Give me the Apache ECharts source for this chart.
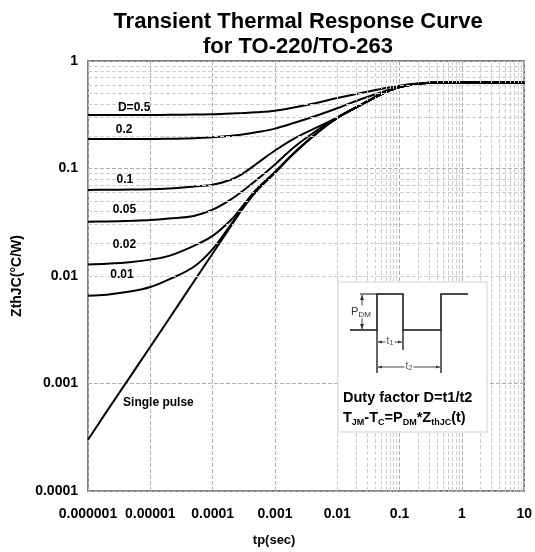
<!DOCTYPE html>
<html><head><meta charset="utf-8">
<script src="https://cdn.jsdelivr.net/npm/echarts@6/dist/echarts.min.js"></script>
<style>html,body{margin:0;padding:0;background:#fff}#c{width:535px;height:552px}</style>
</head><body><div id="c"></div>
<script>
// pulse width tp (s)
const tp = [1e-6, 2e-6, 5e-6, 1e-5, 2e-5, 5e-5, 1e-4, 2e-4, 3e-4, 5e-4, 1e-3, 2e-3, 5e-3, 1e-2, 2e-2, 5e-2, 0.1, 0.2, 0.5, 1, 2, 5, 10];
// ZthJC (°C/W) for each duty factor
const zD05   = [0.315, 0.315, 0.315, 0.315, 0.316, 0.318, 0.32, 0.325, 0.328, 0.333, 0.344, 0.369, 0.412, 0.453, 0.494, 0.548, 0.59, 0.617, 0.63, 0.63, 0.63, 0.63, 0.63];
const zD02   = [0.188, 0.188, 0.188, 0.188, 0.189, 0.191, 0.195, 0.202, 0.207, 0.217, 0.235, 0.265, 0.315, 0.363, 0.425, 0.509, 0.575, 0.616, 0.63, 0.63, 0.63, 0.63, 0.63];
const zD01   = [0.0632, 0.0634, 0.0637, 0.064, 0.0652, 0.068, 0.0705, 0.079, 0.089, 0.11, 0.147, 0.189, 0.245, 0.297, 0.368, 0.49, 0.572, 0.615, 0.63, 0.63, 0.63, 0.63, 0.63];
const zD005  = [0.032, 0.0322, 0.0326, 0.0331, 0.0342, 0.0362, 0.0414, 0.052, 0.0615, 0.0776, 0.109, 0.157, 0.232, 0.297, 0.37, 0.488, 0.571, 0.615, 0.63, 0.63, 0.63, 0.63, 0.63];
const zD002  = [0.0128, 0.013, 0.0135, 0.0142, 0.0154, 0.0191, 0.0236, 0.0335, 0.0445, 0.0635, 0.093, 0.139, 0.221, 0.296, 0.37, 0.488, 0.571, 0.615, 0.63, 0.63, 0.63, 0.63, 0.63];
const zD001  = [0.00656, 0.0067, 0.0072, 0.0079, 0.0093, 0.0122, 0.0178, 0.0306, 0.043, 0.0625, 0.092, 0.138, 0.22, 0.296, 0.37, 0.488, 0.571, 0.615, 0.63, 0.63, 0.63, 0.63, 0.63];
const zSingle= [0.0003, 0.00055, 0.00121, 0.0022, 0.004, 0.0089, 0.0162, 0.0295, 0.0419, 0.061, 0.091, 0.138, 0.22, 0.296, 0.37, 0.488, 0.571, 0.615, 0.63, 0.63, 0.63, 0.63, 0.63];

const curveNames = ['D=0.5', '0.2', '0.1', '0.05', '0.02', '0.01', 'Single pulse'];
const curveData = [zD05, zD02, zD01, zD005, zD002, zD001, zSingle];

const xTickLabels = ['0.000001', '0.00001', '0.0001', '0.001', '0.01', '0.1', '1', '10'];
const yTickLabels = ['0.0001', '0.001', '0.01', '0.1', '1'];

// where each curve label sits (data coordinates)
const labelAnchors = [[5.5e-6, 0.37], [3.8e-6, 0.228], [3.9e-6, 0.079], [3.85e-6, 0.0412], [3.85e-6, 0.0195], [3.5e-6, 0.0102], [1.35e-5, 0.00066]];

const FONT = 'Liberation Sans, Arial, sans-serif';

// minor grid positions (2..9 in each decade)
const minorX = [], minorY = [];
for (let e = -6; e < 1; e++) for (let k = 2; k <= 9; k++) minorX.push(+(k * Math.pow(10, e)).toPrecision(3));
for (let e = -4; e < 0; e++) for (let k = 2; k <= 9; k++) minorY.push(+(k * Math.pow(10, e)).toPrecision(3));

const chart = echarts.init(document.getElementById('c'), null, {renderer: 'canvas'});

const series = [];
series.push({
  type: 'line', z: 1, data: [[1e-6, 1e-4]], showSymbol: false, symbol: 'none',
  lineStyle: {opacity: 0}, silent: true,
  markLine: {
    silent: true, symbol: ['none', 'none'], label: {show: false}, animation: false,
    lineStyle: {color: '#cfcfcf', type: [4, 2], width: 1},
    data: minorX.map(v => ({xAxis: v})).concat(minorY.map(v => ({yAxis: v})))
  }
});
curveData.forEach((arr, i) => {
  series.push({
    name: curveNames[i], type: 'line', z: 3, smooth: 0.35, symbol: 'none', showSymbol: false,
    lineStyle: {color: '#000', width: 2},
    data: tp.map((t, j) => [t, arr[j]])
  });
});

const graphics = [
  {type: 'text', x: 298, y: 9, z: 10, style: {
    text: 'Transient Thermal Response Curve\nfor TO-220/TO-263', align: 'center', verticalAlign: 'top',
    font: 'bold 22px ' + FONT, lineHeight: 25, fill: '#000'}},
  // inset box
  {type: 'rect', z: 20, shape: {x: 338, y: 282, width: 149, height: 150},
    style: {fill: '#fff', stroke: '#e2e2e2', lineWidth: 1.5}},
  {type: 'polyline', z: 21, shape: {points: [[350, 330], [377, 330], [377, 294], [403, 294], [403, 330], [441, 330], [441, 294], [468, 294]]},
    style: {stroke: '#111', lineWidth: 1.5, fill: null}},
  {type: 'line', z: 21, shape: {x1: 360, y1: 294, x2: 377, y2: 294}, style: {stroke: '#111', lineWidth: 1}},
  {type: 'line', z: 21, shape: {x1: 362, y1: 295, x2: 362, y2: 329}, style: {stroke: '#333', lineWidth: 1}},
  {type: 'polygon', z: 21, shape: {points: [[362, 295], [360, 300], [364, 300]]}, style: {fill: '#333'}},
  {type: 'polygon', z: 21, shape: {points: [[362, 329], [360, 324], [364, 324]]}, style: {fill: '#333'}},
  {type: 'text', z: 22, x: 361, y: 312, style: {
    text: '{p|P}{d|DM}', align: 'center', verticalAlign: 'middle', backgroundColor: '#fff',
    rich: {p: {fontFamily: FONT, fontSize: 11, lineHeight: 13, fill: '#333'}, d: {fontFamily: FONT, fontSize: 8, lineHeight: 8, verticalAlign: 'bottom', fill: '#333'}}}},
  // t1 / t2
  {type: 'line', z: 21, shape: {x1: 377, y1: 330, x2: 377, y2: 373}, style: {stroke: '#111', lineWidth: 1.3}},
  {type: 'line', z: 21, shape: {x1: 403, y1: 330, x2: 403, y2: 350}, style: {stroke: '#111', lineWidth: 1.3}},
  {type: 'line', z: 21, shape: {x1: 441, y1: 330, x2: 441, y2: 373}, style: {stroke: '#111', lineWidth: 1.3}},
  {type: 'line', z: 21, shape: {x1: 378, y1: 342, x2: 402, y2: 342}, style: {stroke: '#444', lineWidth: 1}},
  {type: 'polygon', z: 21, shape: {points: [[378, 342], [382, 340.5], [382, 343.5]]}, style: {fill: '#333'}},
  {type: 'polygon', z: 21, shape: {points: [[402, 342], [398, 340.5], [398, 343.5]]}, style: {fill: '#333'}},
  {type: 'text', z: 22, x: 390, y: 341, style: {
    text: '{p|t}{d|1}', align: 'center', verticalAlign: 'middle', backgroundColor: '#fff', padding: [0, 1],
    rich: {p: {fontFamily: FONT, fontSize: 10, lineHeight: 12, fill: '#555'}, d: {fontFamily: FONT, fontSize: 8, lineHeight: 8, verticalAlign: 'bottom', fill: '#555'}}}},
  {type: 'line', z: 21, shape: {x1: 378, y1: 367, x2: 440, y2: 367}, style: {stroke: '#444', lineWidth: 1}},
  {type: 'polygon', z: 21, shape: {points: [[378, 367], [382, 365.5], [382, 368.5]]}, style: {fill: '#333'}},
  {type: 'polygon', z: 21, shape: {points: [[440, 367], [436, 365.5], [436, 368.5]]}, style: {fill: '#333'}},
  {type: 'text', z: 22, x: 409, y: 366, style: {
    text: '{p|t}{d|2}', align: 'center', verticalAlign: 'middle', backgroundColor: '#fff', padding: [0, 1],
    rich: {p: {fontFamily: FONT, fontSize: 10, lineHeight: 12, fill: '#555'}, d: {fontFamily: FONT, fontSize: 8, lineHeight: 8, verticalAlign: 'bottom', fill: '#555'}}}},
  {type: 'text', z: 22, x: 343, y: 398, style: {
    text: 'Duty factor D=t1/t2', align: 'left', verticalAlign: 'middle',
    font: 'bold 14.5px ' + FONT, fill: '#000'}},
  {type: 'text', z: 22, x: 343, y: 418, style: {
    text: '{m|T}{s|JM}{m|-T}{s|C}{m|=P}{s|DM}{m|*Z}{s|thJC}{m|(t)}', align: 'left', verticalAlign: 'middle',
    rich: {m: {fontFamily: FONT, fontWeight: 'bold', fontSize: 14.5, lineHeight: 18, fill: '#000'},
           s: {fontFamily: FONT, fontWeight: 'bold', fontSize: 9, lineHeight: 9, verticalAlign: 'bottom', fill: '#000'}}}}
];

chart.setOption({
  animation: false,
  backgroundColor: '#fff',
  grid: {left: 88, right: 10, top: 61, bottom: 55, show: true, borderColor: '#555', borderWidth: 1.5, containLabel: false},
  xAxis: {
    type: 'log', logBase: 10, min: 1e-6, max: 10, splitNumber: 7,
    axisLine: {show: false}, axisTick: {show: false},
    splitLine: {show: true, lineStyle: {color: '#b0b0b0', type: [4, 2], width: 1}},
    axisLabel: {color: '#000', fontFamily: FONT, fontWeight: 'bold', fontSize: 14, margin: 16,
      formatter: v => xTickLabels[Math.round(Math.log10(v)) + 6] || ''},
    name: 'tp(sec)', nameLocation: 'middle', nameGap: 43,
    nameTextStyle: {color: '#000', fontFamily: FONT, fontWeight: 'bold', fontSize: 13, padding: [0, 64, 0, 0]}
  },
  yAxis: {
    type: 'log', logBase: 10, min: 1e-4, max: 1, splitNumber: 4,
    axisLine: {show: false}, axisTick: {show: false},
    splitLine: {show: true, lineStyle: {color: '#b0b0b0', type: [4, 2], width: 1}},
    axisLabel: {color: '#000', fontFamily: FONT, fontWeight: 'bold', fontSize: 14, margin: 10,
      formatter: v => yTickLabels[Math.round(Math.log10(v)) + 4] || ''},
    name: 'ZthJC(°C/W)', nameLocation: 'middle', nameGap: 55,
    nameTextStyle: {color: '#000', fontFamily: FONT, fontWeight: 'bold', fontSize: 14}
  },
  series: series,
  graphic: graphics
});

// curve labels placed through the chart's own log scales
labelAnchors.forEach((p, i) => {
  const px = chart.convertToPixel({gridIndex: 0}, p);
  graphics.push({type: 'text', z: 15, x: px[0], y: px[1], style: {
    text: curveNames[i], align: 'center', verticalAlign: 'middle',
    font: 'bold 12px ' + FONT, fill: '#000'}});
});
chart.setOption({graphic: graphics});
</script>
</body></html>
